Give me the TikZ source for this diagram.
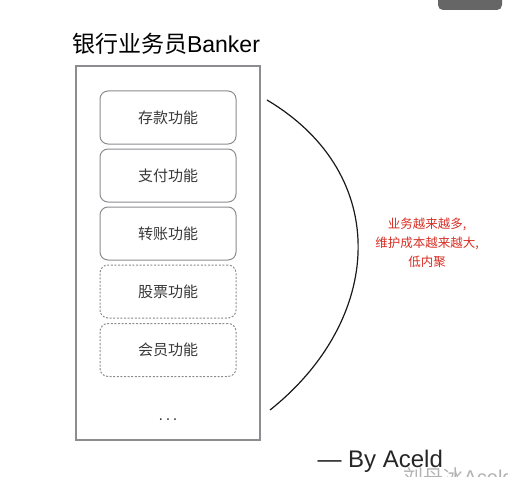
\documentclass[tikz,border=0pt]{standalone}
\usepackage{fontspec}
\setmainfont{Liberation Sans}
\newfontfamily\cjk{Noto Sans CJK SC}
\definecolor{boxgray}{RGB}{140,140,145}
\definecolor{txtgray}{RGB}{55,55,55}
\definecolor{notered}{RGB}{215,45,35}
\begin{document}
\begin{tikzpicture}[x=1pt,y=-1pt,
  func/.style={draw=boxgray, line width=1pt, rounded corners=8pt, minimum width=136pt, minimum height=53pt, text=txtgray, font=\cjk\fontsize{15}{18}\selectfont},
  planned/.style={func, dash pattern=on 2pt off 1.6pt}]
\useasboundingbox (0,0) rectangle (508,476);
% toolbar edge at the top
\fill[black!60, rounded corners=5pt] (438,-10) rectangle (502,10);
\node (title) at (166,44) {\fontsize{23}{26}\selectfont{\cjk 银行业务员}Banker};
\draw[boxgray, line width=1.2pt] (76,66) rectangle (260,440);
\node[func] (deposit) at (168,117.5) {存款功能};
\node[func] (pay) at (168,175.5) {支付功能};
\node[func] (transfer) at (168,233.5) {转账功能};
\node[planned] (stock) at (168,291.5) {股票功能};
\node[planned] (member) at (168,350) {会员功能};
\node[text=txtgray] (more) at (168,420) {\fontsize{16}{18}\selectfont .\,.\,.};
\coordinate (top) at (267,100);
\coordinate (bot) at (270,410);
\draw[line width=1.2pt, black!90] (top) .. controls (393,175) and (383,320) .. (bot);
\node[text=notered, align=center, font=\cjk\fontsize{12.5}{19}\selectfont] (note) at (427,243) {业务越来越多,\\维护成本越来越大,\\低内聚};
\node[anchor=base west, text=black!85] (sign) at (314,467) {\fontsize{24}{26}\selectfont — By Aceld};
\node[anchor=base west, text=black!30] (mark) at (400,484) {\fontsize{20}{22}\selectfont{\cjk 刘丹冰}Aceld};
\end{tikzpicture}
\end{document}
